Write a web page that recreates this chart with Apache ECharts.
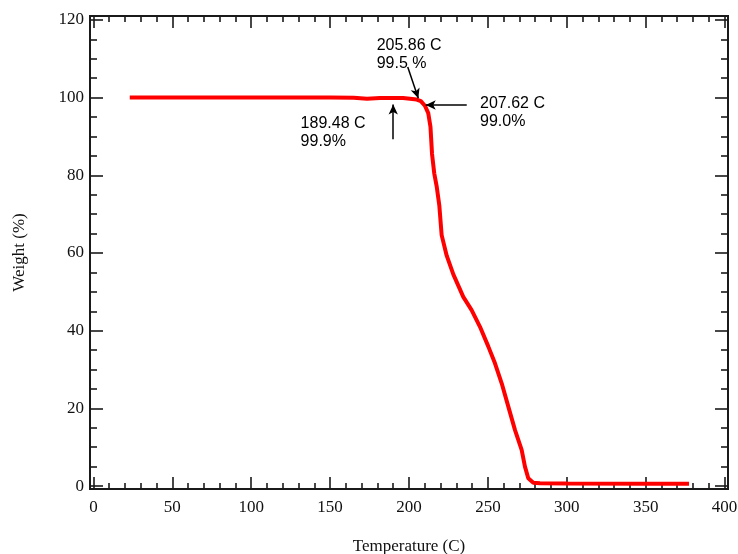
<!DOCTYPE html>
<html>
<head>
<meta charset="utf-8">
<script src="https://cdn.jsdelivr.net/npm/echarts@6/dist/echarts.min.js"></script>
<style>html,body{margin:0;padding:0;background:#fff}#c{width:738px;height:554px}</style>
</head>
<body>
<div id="c"></div>
<script>
// ---- data ----
const temperature = [23, 50, 100, 150, 165, 173.4, 181.6, 190, 196.2, 200.6, 204.9, 207.5, 210.1, 212.2, 213.6, 214.6, 216.0, 217.6, 219.2, 220.7, 223.9, 228.1, 234.4, 239.7, 245.0, 250.3, 254.5, 258.8, 263.0, 267.2, 271.4, 273.5, 275.6, 278.8, 283, 300, 350, 377.5];
const weight      = [100.05, 100.05, 100.05, 100.0, 99.95, 99.7, 99.9, 99.9, 99.9, 99.7, 99.5, 99.1, 97.9, 96.0, 92.5, 85.5, 80.5, 77.0, 72.3, 64.6, 59.3, 54.5, 48.7, 45.3, 41.0, 35.9, 31.6, 26.4, 20.4, 14.4, 9.3, 5.0, 2.0, 0.85, 0.7, 0.65, 0.6, 0.6];
const xMajorTicks = [0, 50, 100, 150, 200, 250, 300, 350, 400];
const xMinorTicks = [10,20,30,40,60,70,80,90,110,120,130,140,160,170,180,190,210,220,230,240,260,270,280,290,310,320,330,340,360,370,380,390];
const yMajorTicks = [0, 20, 40, 60, 80, 100, 120];
const yMinorTicks = [5,10,15,25,30,35,45,50,55,65,70,75,85,90,95,105,110,115];
// annotation texts: [T, W anchor (top-left of text), text]
const noteX = [179.5, 245.0, 131.3];
const noteY = [115.6, 100.8, 95.7];
const noteText = ['205.86 C\n99.5 %', '207.62 C\n99.0%', '189.48 C\n99.9%'];
// arrows: from [T,W] to [T,W]
const arrowFrom = [[199.2, 107.9], [236.6, 98.1], [190.0, 89.3]];
const arrowTo   = [[205.9, 99.8], [210.6, 98.1], [190.0, 98.2]];

const X_MIN = -2.2, X_MAX = 402.2, Y_MIN = -0.75, Y_MAX = 121.0;
const axisColor = '#1a1a1a';
const serif = '"Liberation Serif", "Times New Roman", serif';
const sans = '"Liberation Sans", Arial, sans-serif';

function xAx(pos, ticks, len, labels, name) {
  return {
    type: 'value', position: pos, min: X_MIN, max: X_MAX,
    axisLine: { show: true, onZero: false, lineStyle: { color: axisColor, width: 2 } },
    axisTick: { show: true, inside: true, length: len, customValues: ticks, lineStyle: { color: axisColor, width: 1.6 } },
    axisLabel: labels ? { show: true, customValues: ticks, color: '#111', fontFamily: serif, fontSize: 17, margin: 10 } : { show: false },
    splitLine: { show: false },
    name: name || '', nameLocation: 'middle', nameGap: 49,
    nameTextStyle: { color: '#111', fontFamily: serif, fontSize: 17 }
  };
}
function yAx(pos, ticks, len, labels, name) {
  return {
    type: 'value', position: pos, min: Y_MIN, max: Y_MAX,
    axisLine: { show: true, onZero: false, lineStyle: { color: axisColor, width: 2 } },
    axisTick: { show: true, inside: true, length: len, customValues: ticks, lineStyle: { color: axisColor, width: 1.6 } },
    axisLabel: labels ? { show: true, customValues: ticks, color: '#111', fontFamily: serif, fontSize: 17, margin: 6 } : { show: false },
    splitLine: { show: false },
    name: name || '', nameLocation: 'middle', nameGap: 62, nameRotate: 90,
    nameTextStyle: { color: '#111', fontFamily: serif, fontSize: 17 }
  };
}

const curve = temperature.map((t, i) => [t, weight[i]]);
const notes = noteX.map((t, i) => ({ value: [t, noteY[i]], label: { formatter: noteText[i] } }));
const arrows = arrowFrom.map((f, i) => [{ coord: f }, { coord: arrowTo[i] }]);

const chart = echarts.init(document.getElementById('c'), null, { renderer: 'canvas' });
chart.setOption({
  animation: false,
  backgroundColor: '#fff',
  grid: { left: 90, right: 10, top: 16, bottom: 65, containLabel: false, outerBoundsMode: 'none' },
  xAxis: [
    xAx('bottom', xMajorTicks, 12, true, 'Temperature (C)'),
    xAx('bottom', xMinorTicks, 6, false),
    xAx('top', xMajorTicks, 12, false),
    xAx('top', xMinorTicks, 6, false)
  ],
  yAxis: [
    yAx('left', yMajorTicks, 13, true, 'Weight (%)'),
    yAx('left', yMinorTicks, 7, false),
    yAx('right', yMajorTicks, 13, false),
    yAx('right', yMinorTicks, 7, false)
  ],
  series: [
    {
      type: 'line', data: curve, xAxisIndex: 0, yAxisIndex: 0,
      showSymbol: false, symbol: 'none', smooth: false,
      lineStyle: { color: '#ff0000', width: 4 }, z: 3,
      markLine: {
        silent: true, symbol: ['none', 'arrow'], symbolSize: [7, 10],
        lineStyle: { color: '#000', width: 1.5, type: 'solid', opacity: 1 },
        label: { show: false },
        data: arrows
      }
    },
    {
      type: 'scatter', data: notes, xAxisIndex: 0, yAxisIndex: 0,
      symbolSize: 0, silent: true, itemStyle: { opacity: 1 },
      label: { show: true, position: [0, 0], align: 'left', verticalAlign: 'top', opacity: 1,
               color: '#000', fontFamily: sans, fontSize: 16, lineHeight: 18 }
    }
  ]
});
</script>
</body>
</html>
